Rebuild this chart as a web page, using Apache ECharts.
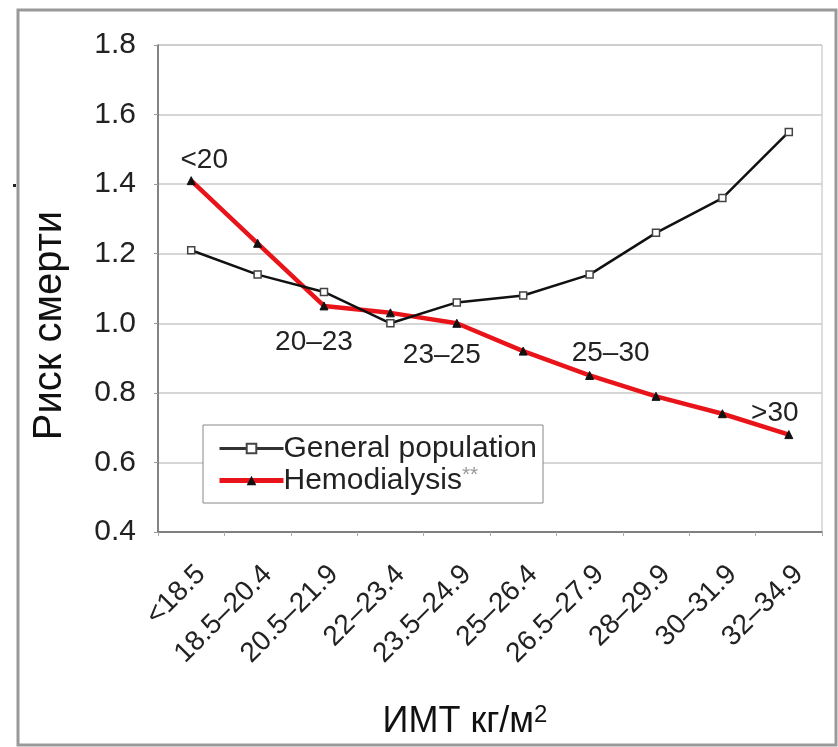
<!DOCTYPE html>
<html><head><meta charset="utf-8">
<script src="https://cdn.jsdelivr.net/npm/echarts@6/dist/echarts.min.js"></script>
<style>html,body{margin:0;padding:0;background:#fff}#c{width:838px;height:747px}</style>
</head><body><div id="c"></div>
<script>
const categories = ['<18.5','18.5–20.4','20.5–21.9','22–23.4','23.5–24.9','25–26.4','26.5–27.9','28–29.9','30–31.9','32–34.9'];
const generalPopulation = [1.21,1.14,1.09,1.00,1.06,1.08,1.14,1.26,1.36,1.55];
const hemodialysis = [1.41,1.23,1.05,1.03,1.00,0.92,0.85,0.79,0.74,0.68];
const hdRangeLabels = ['<20','','20–23','','23–25','','25–30','','','>30'];
const yTicks = [0.4,0.6,0.8,1.0,1.2,1.4,1.6,1.8];
const seriesNames = ['General population','Hemodialysis'];

const labelOffsets = [[13,-20],null,[-10,36],null,[-15,32],null,[21,-22],null,null,[-14,-21]];
const font = 'Liberation Sans, Arial, sans-serif';

const chart = echarts.init(document.getElementById('c'));
chart.setOption({
  animation:false,
  backgroundColor:'#fff',
  grid:{left:158,right:16,top:45,bottom:215,show:true,borderColor:'#bbb',borderWidth:1},
  xAxis:{type:'category',data:categories,boundaryGap:true,
    axisLine:{lineStyle:{color:'#666',width:1.5}},
    axisTick:{show:true,alignWithLabel:false,length:4,lineStyle:{color:'#aaa'}},
    axisLabel:{rotate:45,fontSize:28,color:'#222',fontFamily:font,margin:48,interval:0,padding:[25,-14,0,0]},
    name:'{a|ИМТ кг/м}{s|2}',nameLocation:'middle',nameGap:171,
    nameTextStyle:{padding:[0,50,0,0],rich:{a:{fontSize:36,color:'#111',fontFamily:font},s:{fontSize:24,color:'#111',fontFamily:font,verticalAlign:'top',padding:[0,0,14,0]}}}
  },
  yAxis:{type:'value',min:yTicks[0],max:yTicks[yTicks.length-1],interval:0.2,
    axisLine:{show:true,lineStyle:{color:'#666',width:1.5}},
    axisTick:{show:true,length:4,lineStyle:{color:'#999'}},
    splitLine:{lineStyle:{color:'#c8c8c8',width:1.5}},
    axisLabel:{fontSize:30,color:'#222',fontFamily:font,margin:22,formatter:v=>v.toFixed(1)},
    name:'Риск смерти',nameLocation:'middle',nameGap:88,nameRotate:90,
    nameTextStyle:{fontSize:40,color:'#111',fontFamily:font,padding:[0,74,0,0]}
  },
  legend:{left:203,top:425,orient:'vertical',itemGap:1,itemWidth:64,itemHeight:12,
    padding:[8,6,7,14],borderColor:'#888',borderWidth:1,backgroundColor:'#fff',
    textStyle:{fontSize:30,lineHeight:31,color:'#222',fontFamily:font,padding:[0,0,0,-5]},
    formatter:n=> n==='Hemodialysis' ? n+'{g|**}' : n,
    data:[{name:seriesNames[0],lineStyle:{width:3,color:'#333'}},{name:seriesNames[1],lineStyle:{width:5,color:'#e8141a'}}]
  },
  series:[
    {name:seriesNames[0],type:'line',data:generalPopulation,z:3,
      symbol:'rect',symbolSize:7,
      lineStyle:{color:'#111',width:2.5},
      itemStyle:{color:'#fff',borderColor:'#444',borderWidth:1.5}},
    {name:seriesNames[1],type:'line',data:hemodialysis.map((v,i)=>{
        const o=labelOffsets[i];
        return o?{value:v,label:{show:true,formatter:hdRangeLabels[i],offset:o}}:v;
      }),z:2,
      symbol:'triangle',symbolSize:8,
      lineStyle:{color:'#e8141a',width:4.5},
      itemStyle:{color:'#111',borderColor:'#111'},
      label:{show:false,position:'inside',fontSize:28,color:'#222',fontFamily:font}}
  ],
  graphic:[
    {type:'rect',shape:{x:18,y:10,width:818,height:735},style:{fill:'none',stroke:'#999',lineWidth:3},silent:true},
    {type:'rect',shape:{x:13,y:184,width:3,height:3},style:{fill:'#222'},silent:true}
  ]
});
chart.setOption({legend:{textStyle:{rich:{g:{fontSize:21,color:'#999',fontFamily:font,verticalAlign:'top'}}}}});
</script></body></html>
